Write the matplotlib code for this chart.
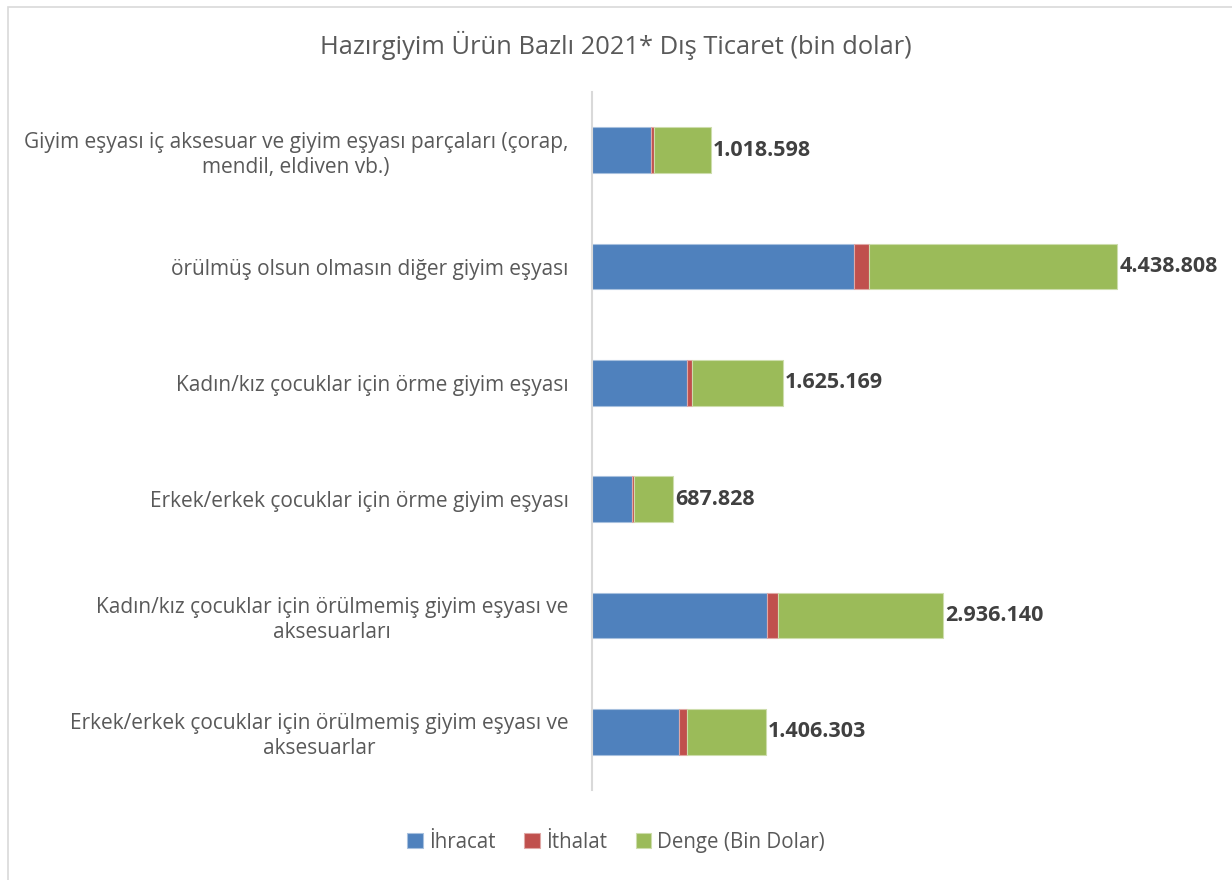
import matplotlib.pyplot as plt
from matplotlib.patches import Rectangle

plt.rcParams['font.family'] = ['Open Sans', 'DejaVu Sans']

categories = [
    'Giyim eşyası iç aksesuar ve giyim eşyası parçaları (çorap,\nmendil, eldiven vb.)',
    'örülmüş olsun olmasın diğer giyim eşyası',
    'Kadın/kız çocuklar için örme giyim eşyası',
    'Erkek/erkek çocuklar için örme giyim eşyası',
    'Kadın/kız çocuklar için örülmemiş giyim eşyası ve\naksesuarları',
    'Erkek/erkek çocuklar için örülmemiş giyim eşyası ve\naksesuarlar',
]
ihracat = [1060000, 4690000, 1700000, 722000, 3130000, 1550000]
ithalat = [51000, 261000, 85000, 34000, 204000, 154000]
denge = [1018598, 4438808, 1625169, 687828, 2936140, 1406303]
denge_labels = ['1.018.598', '4.438.808', '1.625.169', '687.828', '2.936.140', '1.406.303']

fig = plt.figure(figsize=(12.32, 8.8), dpi=100)
# chart frame
fig.patches.append(Rectangle((8 / 1232, -0.01), 1.5, 1 - 7 / 880 + 0.01,
                             transform=fig.transFigure, fill=False,
                             edgecolor='#D9D9D9', linewidth=1.2))

ax = fig.add_axes([592 / 1232, 90 / 880, 559 / 1232, 698 / 880])
y = range(len(categories))
h = 0.395
left2 = [a + b for a, b in zip(ihracat, ithalat)]
ax.barh(y, ihracat, height=h, color='#4F81BD', edgecolor='#A7C0DE', linewidth=0.8, label='İhracat')
ax.barh(y, ithalat, left=ihracat, height=h, color='#C0504D', edgecolor='#E0A8A6', linewidth=0.8, label='İthalat')
ax.barh(y, denge, left=left2, height=h, color='#9BBB59', edgecolor='#CDDDAC', linewidth=0.8, label='Denge (Bin Dolar)')

for i, lab in enumerate(denge_labels):
    ax.text(left2[i] + denge[i] + 40000, i, lab, ha='left', va='center',
            fontsize=15.5, fontweight='bold', color='#404040', clip_on=False)

ax.set_xlim(0, 10000000)
ax.set_ylim(len(categories) - 0.5, -0.5)
ax.set_yticks(list(y))
ax.set_yticklabels(categories, fontsize=15, color='#595959', multialignment='center',
                   linespacing=1.25)
ax.tick_params(axis='y', length=0, pad=17)
ax.set_xticks([])
for s in ['top', 'right', 'bottom']:
    ax.spines[s].set_visible(False)
ax.spines['left'].set_color('#D9D9D9')
ax.spines['left'].set_linewidth(1.5)

fig.text(0.5, 1 - 45 / 880, 'Hazırgiyim Ürün Bazlı 2021* Dış Ticaret (bin dolar)',
         ha='center', va='center', fontsize=18.4, color='#595959')

fig.legend(loc='center', bbox_to_anchor=(0.5, 1 - 842 / 880), ncol=3, frameon=False,
           fontsize=14.8, labelcolor='#595959', handlelength=0.75, handleheight=0.75,
           columnspacing=1.4, handletextpad=0.3)

fig.savefig('out.png', dpi=100, facecolor='white')
